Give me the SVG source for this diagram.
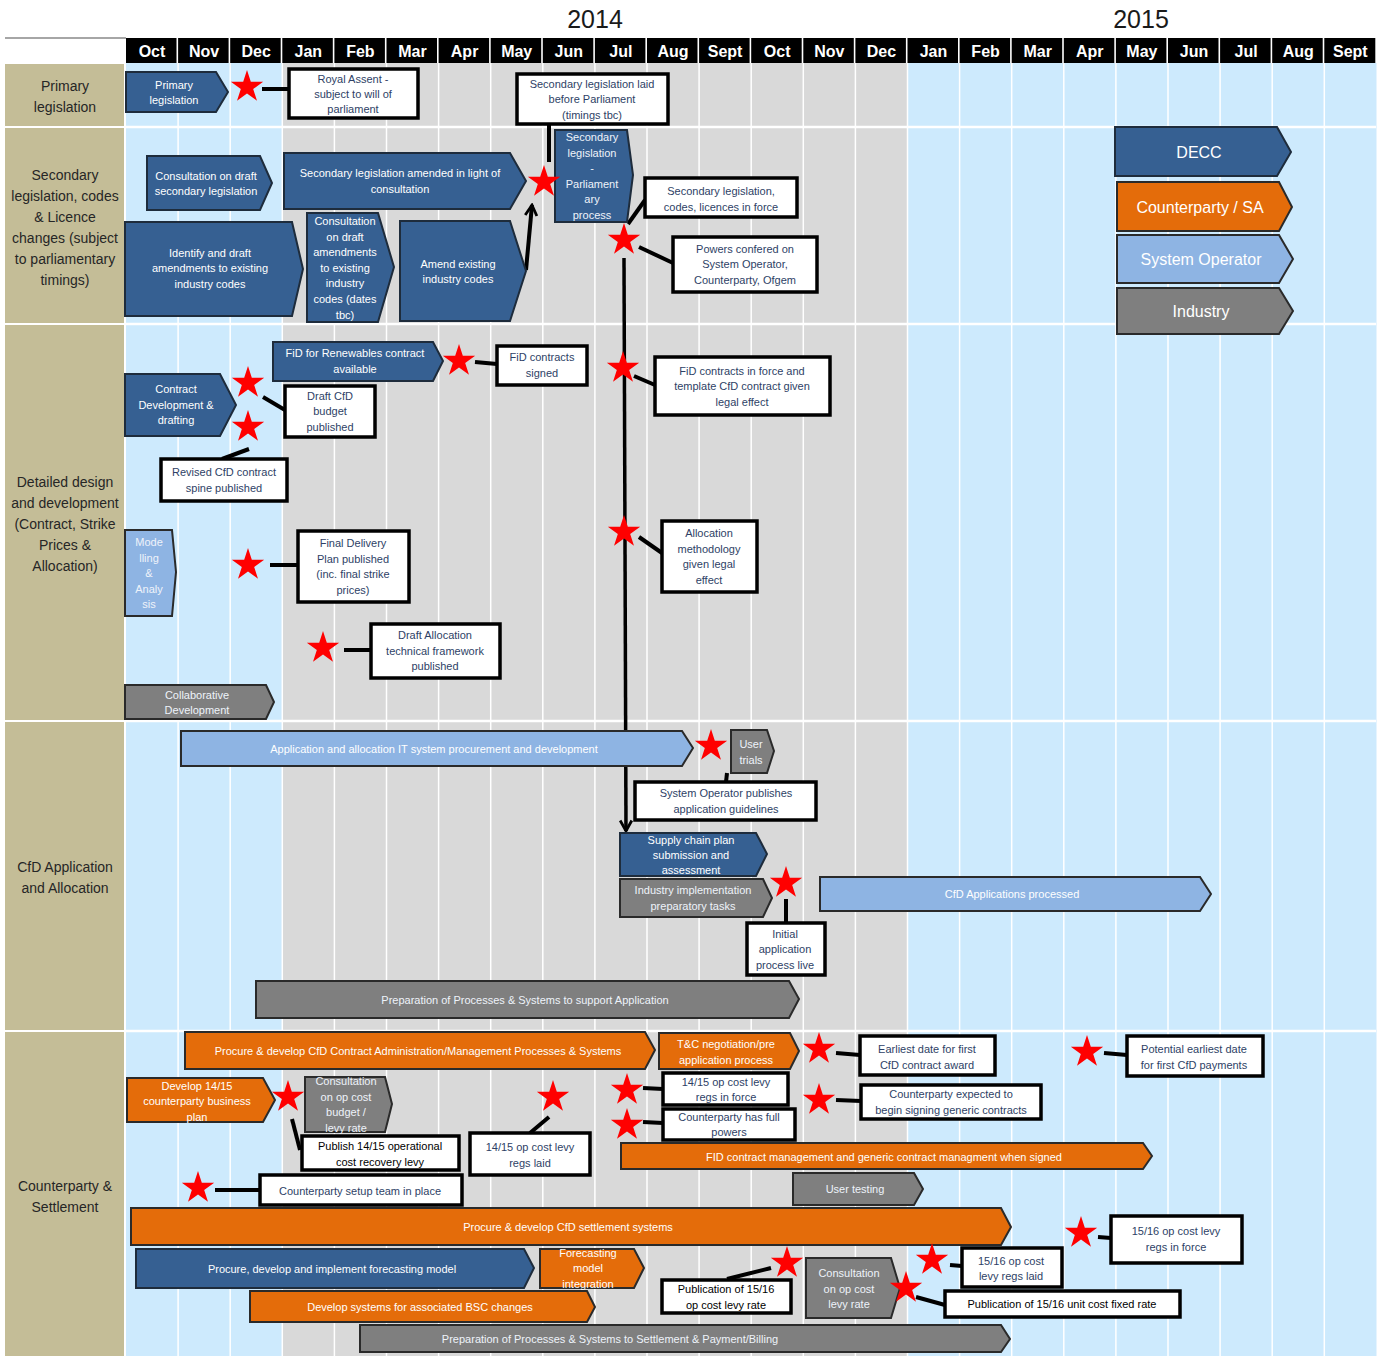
<svg xmlns="http://www.w3.org/2000/svg" xmlns:xlink="http://www.w3.org/1999/xlink" width="1381" height="1356" viewBox="0 0 1381 1356">
<style>
text{font-family:"Liberation Sans",Arial,sans-serif;text-anchor:middle}
.decc{fill:#366092;stroke:#1e2c3c;stroke-width:2}
.cp{fill:#e46c0a;stroke:#2a2a2a;stroke-width:2}
.so{fill:#8eb4e3;stroke:#2a2a2a;stroke-width:2}
.ind{fill:#7f7f7f;stroke:#2a2a2a;stroke-width:2}
.box{fill:#fff;stroke:#000;stroke-width:3.5}
.tw{font-size:11px;fill:#fff}
.tl{font-size:11px;fill:#eef3fa}
.tb{font-size:11px;fill:#2e3f66}
.tk{font-size:11px;fill:#000}
.mon{font-size:16px;font-weight:bold;fill:#fff}
.lab{font-size:14px;fill:#262626}
.yr{font-size:25px;fill:#1a1a1a}
.leg{font-size:16px;fill:#fff}
.conn line{stroke:#000;stroke-width:4;stroke-linecap:butt}
.vl{stroke:#fff;stroke-width:1.5}
.hl{stroke:#fff;stroke-width:2.5}
</style>
<defs>
<polygon id="star" fill="#ff0000" points="0,-17 3.82,-5.26 16.17,-5.25 6.18,2.01 9.99,13.75 0,6.5 -9.99,13.75 -6.18,2.01 -16.17,-5.25 -3.82,-5.26"/>
<marker id="arr" viewBox="0 0 12 12" refX="10" refY="6" markerWidth="14" markerHeight="14" markerUnits="userSpaceOnUse" orient="auto"><path d="M1,1 L10,6 L1,11" fill="none" stroke="#000" stroke-width="2.4"/></marker>
</defs>
<rect x="0" y="0" width="1381" height="1356" fill="#fff"/>
<g id="background">
<rect x="126" y="63" width="156.3" height="1293" fill="#cdeafd"/>
<rect x="282.3" y="63" width="625.2" height="1293" fill="#d9d9d9"/>
<rect x="907.5" y="63" width="469" height="1293" fill="#cdeafd"/>
<line class="vl" x1="178.1" y1="63" x2="178.1" y2="1356"/>
<line class="vl" x1="230.2" y1="63" x2="230.2" y2="1356"/>
<line class="vl" x1="282.3" y1="63" x2="282.3" y2="1356"/>
<line class="vl" x1="334.4" y1="63" x2="334.4" y2="1356"/>
<line class="vl" x1="386.5" y1="63" x2="386.5" y2="1356"/>
<line class="vl" x1="438.6" y1="63" x2="438.6" y2="1356"/>
<line class="vl" x1="490.7" y1="63" x2="490.7" y2="1356"/>
<line class="vl" x1="542.8" y1="63" x2="542.8" y2="1356"/>
<line class="vl" x1="594.9" y1="63" x2="594.9" y2="1356"/>
<line class="vl" x1="647" y1="63" x2="647" y2="1356"/>
<line class="vl" x1="699.1" y1="63" x2="699.1" y2="1356"/>
<line class="vl" x1="751.2" y1="63" x2="751.2" y2="1356"/>
<line class="vl" x1="803.3" y1="63" x2="803.3" y2="1356"/>
<line class="vl" x1="855.4" y1="63" x2="855.4" y2="1356"/>
<line class="vl" x1="907.5" y1="63" x2="907.5" y2="1356"/>
<line class="vl" x1="959.6" y1="63" x2="959.6" y2="1356"/>
<line class="vl" x1="1011.7" y1="63" x2="1011.7" y2="1356"/>
<line class="vl" x1="1063.8" y1="63" x2="1063.8" y2="1356"/>
<line class="vl" x1="1115.9" y1="63" x2="1115.9" y2="1356"/>
<line class="vl" x1="1168" y1="63" x2="1168" y2="1356"/>
<line class="vl" x1="1220.1" y1="63" x2="1220.1" y2="1356"/>
<line class="vl" x1="1272.2" y1="63" x2="1272.2" y2="1356"/>
<line class="vl" x1="1324.3" y1="63" x2="1324.3" y2="1356"/>
<rect x="5" y="64" width="119" height="62" fill="#c4bd97"/>
<rect x="5" y="128" width="119" height="195" fill="#c4bd97"/>
<rect x="5" y="325" width="119" height="395" fill="#c4bd97"/>
<rect x="5" y="722" width="119" height="308" fill="#c4bd97"/>
<rect x="5" y="1032" width="119" height="324" fill="#c4bd97"/>
<line class="hl" x1="126" y1="127" x2="1376" y2="127"/>
<line class="hl" x1="126" y1="324" x2="1376" y2="324"/>
<line class="hl" x1="126" y1="721" x2="1376" y2="721"/>
<line class="hl" x1="126" y1="1031" x2="1376" y2="1031"/>
<line x1="5" y1="38" x2="126" y2="38" stroke="#a6a6a6" stroke-width="2"/>
</g>
<g id="header">
<text class="yr" x="595" y="28">2014</text>
<text class="yr" x="1141" y="28">2015</text>
<g fill="#000">
<rect x="126" y="38" width="50.5" height="25"/><rect x="178.1" y="38" width="50.5" height="25"/><rect x="230.2" y="38" width="50.5" height="25"/><rect x="282.3" y="38" width="50.5" height="25"/><rect x="334.4" y="38" width="50.5" height="25"/><rect x="386.5" y="38" width="50.5" height="25"/><rect x="438.6" y="38" width="50.5" height="25"/><rect x="490.7" y="38" width="50.5" height="25"/><rect x="542.8" y="38" width="50.5" height="25"/><rect x="594.9" y="38" width="50.5" height="25"/><rect x="647" y="38" width="50.5" height="25"/><rect x="699.1" y="38" width="50.5" height="25"/><rect x="751.2" y="38" width="50.5" height="25"/><rect x="803.3" y="38" width="50.5" height="25"/><rect x="855.4" y="38" width="50.5" height="25"/><rect x="907.5" y="38" width="50.5" height="25"/><rect x="959.6" y="38" width="50.5" height="25"/><rect x="1011.7" y="38" width="50.5" height="25"/><rect x="1063.8" y="38" width="50.5" height="25"/><rect x="1115.9" y="38" width="50.5" height="25"/><rect x="1168" y="38" width="50.5" height="25"/><rect x="1220.1" y="38" width="50.5" height="25"/><rect x="1272.2" y="38" width="50.5" height="25"/><rect x="1324.3" y="38" width="51" height="25"/>
</g>
<text class="mon" x="152" y="57">Oct</text><text class="mon" x="204.1" y="57">Nov</text><text class="mon" x="256.2" y="57">Dec</text><text class="mon" x="308.3" y="57">Jan</text><text class="mon" x="360.4" y="57">Feb</text><text class="mon" x="412.5" y="57">Mar</text><text class="mon" x="464.6" y="57">Apr</text><text class="mon" x="516.7" y="57">May</text><text class="mon" x="568.8" y="57">Jun</text><text class="mon" x="620.9" y="57">Jul</text><text class="mon" x="673" y="57">Aug</text><text class="mon" x="725.1" y="57">Sept</text><text class="mon" x="777.2" y="57">Oct</text><text class="mon" x="829.3" y="57">Nov</text><text class="mon" x="881.4" y="57">Dec</text><text class="mon" x="933.5" y="57">Jan</text><text class="mon" x="985.6" y="57">Feb</text><text class="mon" x="1037.7" y="57">Mar</text><text class="mon" x="1089.8" y="57">Apr</text><text class="mon" x="1141.9" y="57">May</text><text class="mon" x="1194" y="57">Jun</text><text class="mon" x="1246.1" y="57">Jul</text><text class="mon" x="1298.2" y="57">Aug</text><text class="mon" x="1350.3" y="57">Sept</text>
</g>
<g id="row-labels">
<text class="lab"><tspan x="65" y="91">Primary</tspan><tspan x="65" y="112">legislation</tspan></text>
<text class="lab"><tspan x="65" y="180">Secondary</tspan><tspan x="65" y="201">legislation, codes</tspan><tspan x="65" y="222">&amp; Licence</tspan><tspan x="65" y="243">changes (subject</tspan><tspan x="65" y="264">to parliamentary</tspan><tspan x="65" y="285">timings)</tspan></text>
<text class="lab"><tspan x="65" y="487">Detailed design</tspan><tspan x="65" y="508">and development</tspan><tspan x="65" y="529">(Contract, Strike</tspan><tspan x="65" y="550">Prices &amp;</tspan><tspan x="65" y="571">Allocation)</tspan></text>
<text class="lab"><tspan x="65" y="872">CfD Application</tspan><tspan x="65" y="893">and Allocation</tspan></text>
<text class="lab"><tspan x="65" y="1191">Counterparty  &amp;</tspan><tspan x="65" y="1212">Settlement</tspan></text>
</g>
<g id="legend">
<g id="leg-decc"><polygon class="decc" points="1115,127 1277,127 1291,152 1277,176 1115,176"/><text class="leg" x="1199" y="158">DECC</text></g>
<g id="leg-cp"><polygon class="cp" points="1117,182 1279,182 1292,207 1279,231 1117,231"/><text class="leg" x="1200" y="213">Counterparty / SA</text></g>
<g id="leg-so"><polygon class="so" points="1117,235 1279,235 1293,259 1279,283 1117,283"/><text class="leg" x="1201" y="265">System Operator</text></g>
<g id="leg-ind"><polygon class="ind" points="1117,288 1279,288 1293,311 1279,334 1117,334"/><text class="leg" x="1201" y="317">Industry</text></g>
</g>
<g id="connectors" class="conn">
<line x1="262" y1="89" x2="289" y2="89"/>
<line x1="549" y1="124" x2="549" y2="162"/>
<line x1="526" y1="270" x2="532" y2="205" marker-end="url(#arr)"/>
<line x1="628" y1="224" x2="645" y2="200"/>
<line x1="639" y1="247" x2="673" y2="263"/>
<line x1="624" y1="258" x2="626" y2="831" style="stroke-width:3.5" marker-end="url(#arr)"/>
<line x1="475" y1="362" x2="497" y2="364"/>
<line x1="263" y1="397" x2="285" y2="410"/>
<line x1="249" y1="449" x2="222" y2="459"/>
<line x1="270" y1="565" x2="298" y2="565"/>
<line x1="344" y1="650" x2="371" y2="650"/>
<line x1="634" y1="376" x2="655" y2="385"/>
<line x1="639" y1="537" x2="662" y2="553"/>
<line x1="727" y1="773" x2="726" y2="782"/>
<line x1="786" y1="899" x2="786" y2="923"/>
<line x1="836" y1="1053" x2="860" y2="1055"/>
<line x1="1104" y1="1053" x2="1127" y2="1055"/>
<line x1="292" y1="1119" x2="300" y2="1150"/>
<line x1="549" y1="1117" x2="530" y2="1133"/>
<line x1="215" y1="1190" x2="260" y2="1190"/>
<line x1="643" y1="1088" x2="663" y2="1089"/>
<line x1="643" y1="1122" x2="663" y2="1123"/>
<line x1="836" y1="1100" x2="861" y2="1101"/>
<line x1="771" y1="1268" x2="727" y2="1279"/>
<line x1="916" y1="1297" x2="945" y2="1305"/>
<line x1="950" y1="1265" x2="962" y2="1266"/>
<line x1="1098" y1="1237" x2="1111" y2="1238"/>
</g>
<g id="n-primary"><polygon class="decc" points="126,72 216,72 228,92 216,112 126,112"/><text class="tw"><tspan x="174" y="89">Primary</tspan><tspan x="174" y="104">legislation</tspan></text></g>
<g id="n-royal"><rect class="box" x="289" y="69" width="129" height="49"/><text class="tb"><tspan x="353" y="83">Royal Assent -</tspan><tspan x="353" y="98">subject to will of</tspan><tspan x="353" y="113">parliament</tspan></text></g>
<g id="n-laid"><rect class="box" x="517" y="74" width="151" height="50"/><text class="tb"><tspan x="592" y="88">Secondary legislation laid</tspan><tspan x="592" y="103">before Parliament</tspan><tspan x="592" y="119">(timings tbc)</tspan></text></g>
<g id="n-consult-sec"><polygon class="decc" points="147,156 260,156 272,183 260,210 147,210"/><text class="tw"><tspan x="206" y="180">Consultation on draft</tspan><tspan x="206" y="195">secondary legislation</tspan></text></g>
<g id="n-sec-amended"><polygon class="decc" points="284,153 510,153 526,181 510,209 284,209"/><text class="tw"><tspan x="400" y="177">Secondary legislation amended in light of</tspan><tspan x="400" y="193">consultation</tspan></text></g>
<g id="n-identify"><polygon class="decc" points="125,222 292,222 303,269 292,316 125,316"/><text class="tw"><tspan x="210" y="257">Identify and draft</tspan><tspan x="210" y="272">amendments to existing</tspan><tspan x="210" y="288">industry codes</tspan></text></g>
<g id="n-consult-codes"><polygon class="decc" points="307,213 378,213 394,267 378,322 307,322"/><text class="tw"><tspan x="345" y="225">Consultation</tspan><tspan x="345" y="241">on draft</tspan><tspan x="345" y="256">amendments</tspan><tspan x="345" y="272">to existing</tspan><tspan x="345" y="287">industry</tspan><tspan x="345" y="303">codes (dates</tspan><tspan x="345" y="319">tbc)</tspan></text></g>
<g id="n-amend"><polygon class="decc" points="400,221 510,221 526,271 510,321 400,321"/><text class="tw"><tspan x="458" y="268">Amend existing</tspan><tspan x="458" y="283">industry codes</tspan></text></g>
<g id="n-parl"><polygon class="decc" points="555,130 627,130 633,175 627,222 555,222"/><text class="tl"><tspan x="592" y="141">Secondary</tspan><tspan x="592" y="157">legislation</tspan><tspan x="592" y="172">-</tspan><tspan x="592" y="188">Parliament</tspan><tspan x="592" y="203">ary</tspan><tspan x="592" y="219">process</tspan></text></g>
<g id="n-inforce"><rect class="box" x="645" y="178" width="152" height="39"/><text class="tb"><tspan x="721" y="195">Secondary legislation,</tspan><tspan x="721" y="211">codes, licences in force</tspan></text></g>
<g id="n-powers"><rect class="box" x="673" y="237" width="144" height="55"/><text class="tb"><tspan x="745" y="253">Powers confered on</tspan><tspan x="745" y="268">System Operator,</tspan><tspan x="745" y="284">Counterparty,  Ofgem</tspan></text></g>
<g id="n-fid-avail"><polygon class="decc" points="273,342 433,342 443,361 433,381 273,381"/><text class="tw"><tspan x="355" y="357">FiD for Renewables  contract</tspan><tspan x="355" y="373">available</tspan></text></g>
<g id="n-fid-signed"><rect class="box" x="497" y="346" width="90" height="39"/><text class="tb"><tspan x="542" y="361">FiD contracts</tspan><tspan x="542" y="377">signed</tspan></text></g>
<g id="n-contract-dev"><polygon class="decc" points="125,374 220,374 236,405 220,436 125,436"/><text class="tw"><tspan x="176" y="393">Contract</tspan><tspan x="176" y="409">Development  &amp;</tspan><tspan x="176" y="424">drafting</tspan></text></g>
<g id="n-draft-budget"><rect class="box" x="285" y="386" width="90" height="51"/><text class="tb"><tspan x="330" y="400">Draft CfD</tspan><tspan x="330" y="415">budget</tspan><tspan x="330" y="431">published</tspan></text></g>
<g id="n-revised"><rect class="box" x="161" y="459" width="126" height="42"/><text class="tb"><tspan x="224" y="476">Revised CfD contract</tspan><tspan x="224" y="492">spine published</tspan></text></g>
<g id="n-modelling"><polygon class="so" points="125,530 172,530 176,572 172,616 125,616"/><text class="tl"><tspan x="149" y="546">Mode</tspan><tspan x="149" y="562">lling</tspan><tspan x="149" y="577">&amp;</tspan><tspan x="149" y="593">Analy</tspan><tspan x="149" y="608">sis</tspan></text></g>
<g id="n-final-plan"><rect class="box" x="298" y="531" width="111" height="71"/><text class="tb"><tspan x="353" y="547">Final Delivery</tspan><tspan x="353" y="563">Plan published</tspan><tspan x="353" y="578">(inc. final strike</tspan><tspan x="353" y="594">prices)</tspan></text></g>
<g id="n-draft-alloc"><rect class="box" x="371" y="624" width="129" height="54"/><text class="tb"><tspan x="435" y="639">Draft Allocation</tspan><tspan x="435" y="655">technical framework</tspan><tspan x="435" y="670">published</tspan></text></g>
<g id="n-collab"><polygon class="ind" points="125,685 266,685 274,702 266,719 125,719"/><text class="tl"><tspan x="197" y="699">Collaborative</tspan><tspan x="197" y="714">Development</tspan></text></g>
<g id="n-fid-force"><rect class="box" x="655" y="357" width="175" height="58"/><text class="tb"><tspan x="742" y="375">FiD contracts in force and</tspan><tspan x="742" y="390">template CfD contract given</tspan><tspan x="742" y="406">legal effect</tspan></text></g>
<g id="n-alloc-method"><rect class="box" x="662" y="521" width="95" height="71"/><text class="tb"><tspan x="709" y="537">Allocation</tspan><tspan x="709" y="553">methodology</tspan><tspan x="709" y="568">given  legal</tspan><tspan x="709" y="584">effect</tspan></text></g>
<g id="n-it-system"><polygon class="so" points="181,731 682,731 693,748 682,766 181,766"/><text class="tw" x="434" y="753">Application and allocation IT system procurement and development</text></g>
<g id="n-user-trials"><polygon class="ind" points="731,730 767,730 774,751 767,773 731,773"/><text class="tl"><tspan x="751" y="748">User</tspan><tspan x="751" y="764">trials</tspan></text></g>
<g id="n-so-guidelines"><rect class="box" x="635" y="782" width="181" height="38"/><text class="tb"><tspan x="726" y="797">System Operator publishes</tspan><tspan x="726" y="813">application guidelines</tspan></text></g>
<g id="n-supply-chain"><polygon class="decc" points="620,833 756,833 767,854 756,876 620,876"/><text class="tw"><tspan x="691" y="844">Supply chain plan</tspan><tspan x="691" y="859">submission and</tspan><tspan x="691" y="874">assessment</tspan></text></g>
<g id="n-industry-impl"><polygon class="ind" points="620,879 763,879 772,898 763,917 620,917"/><text class="tl"><tspan x="693" y="894">Industry implementation</tspan><tspan x="693" y="910">preparatory tasks</tspan></text></g>
<g id="n-initial-app"><rect class="box" x="747" y="923" width="78" height="52"/><text class="tb"><tspan x="785" y="938">Initial</tspan><tspan x="785" y="953">application</tspan><tspan x="785" y="969">process live</tspan></text></g>
<g id="n-cfd-processed"><polygon class="so" points="820,877 1200,877 1211,894 1200,911 820,911"/><text class="tw" x="1012" y="898">CfD Applications processed</text></g>
<g id="n-prep-app"><polygon class="ind" points="256,981 789,981 799,999 789,1018 256,1018"/><text class="tl" x="525" y="1004">Preparation of Processes  &amp; Systems to support Application</text></g>
<g id="n-procure-admin"><polygon class="cp" points="185,1032 645,1032 655,1050 645,1069 185,1069"/><text class="tw" x="418" y="1055">Procure &amp; develop CfD Contract Administration/Management  Processes &amp; Systems</text></g>
<g id="n-tc"><polygon class="cp" points="659,1033 790,1033 799,1051 790,1069 659,1069"/><text class="tw"><tspan x="726" y="1048">T&amp;C negotiation/pre</tspan><tspan x="726" y="1064">application process</tspan></text></g>
<g id="n-earliest"><rect class="box" x="860" y="1036" width="135" height="39"/><text class="tb"><tspan x="927" y="1053">Earliest date for first</tspan><tspan x="927" y="1069">CfD contract award</tspan></text></g>
<g id="n-potential"><rect class="box" x="1127" y="1036" width="136" height="40"/><text class="tb"><tspan x="1194" y="1053">Potential earliest  date</tspan><tspan x="1194" y="1069">for first CfD payments</tspan></text></g>
<g id="n-dev-plan"><polygon class="cp" points="127,1078 263,1078 275,1100 263,1122 127,1122"/><text class="tw"><tspan x="197" y="1090">Develop 14/15</tspan><tspan x="197" y="1105">counterparty business</tspan><tspan x="197" y="1121">plan</tspan></text></g>
<g id="n-consult-budget"><polygon class="ind" points="305,1077 385,1077 392,1104 385,1132 305,1132"/><text class="tl"><tspan x="346" y="1085">Consultation</tspan><tspan x="346" y="1101">on op cost</tspan><tspan x="346" y="1116">budget /</tspan><tspan x="346" y="1132">levy rate</tspan></text></g>
<g id="n-publish-1415"><rect class="box" x="302" y="1136" width="157" height="34"/><text class="tk"><tspan x="380" y="1150">Publish 14/15 operational</tspan><tspan x="380" y="1166">cost recovery levy</tspan></text></g>
<g id="n-1415-laid"><rect class="box" x="470" y="1133" width="120" height="42"/><text class="tb"><tspan x="530" y="1151">14/15 op cost levy</tspan><tspan x="530" y="1167">regs laid</tspan></text></g>
<g id="n-setup-team"><rect class="box" x="260" y="1175" width="202" height="30"/><text class="tb" x="360" y="1195">Counterparty setup team in place</text></g>
<g id="n-1415-force"><rect class="box" x="663" y="1073" width="125" height="32"/><text class="tb"><tspan x="726" y="1086">14/15 op cost levy</tspan><tspan x="726" y="1101">regs in force</tspan></text></g>
<g id="n-full-powers"><rect class="box" x="663" y="1109" width="132" height="31"/><text class="tb"><tspan x="729" y="1121">Counterparty has full</tspan><tspan x="729" y="1136">powers</tspan></text></g>
<g id="n-signing"><rect class="box" x="861" y="1085" width="180" height="34"/><text class="tb"><tspan x="951" y="1098">Counterparty expected to</tspan><tspan x="951" y="1114">begin signing generic contracts</tspan></text></g>
<g id="n-fid-mgmt"><polygon class="cp" points="621,1143 1143,1143 1152,1156 1143,1169 621,1169"/><text class="tw" x="884" y="1161">FID contract management and generic contract managment when signed</text></g>
<g id="n-user-testing"><polygon class="ind" points="793,1173 914,1173 923,1189 914,1205 793,1205"/><text class="tl" x="855" y="1193">User testing</text></g>
<g id="n-settlement"><polygon class="cp" points="131,1208 1001,1208 1011,1227 1001,1245 131,1245"/><text class="tw" x="568" y="1231">Procure &amp; develop  CfD settlement systems</text></g>
<g id="n-forecast"><polygon class="decc" points="136,1249 524,1249 534,1268 524,1288 136,1288"/><text class="tw" x="332" y="1273">Procure, develop and implement forecasting model</text></g>
<g id="n-forecast-int"><polygon class="cp" points="540,1249 634,1249 644,1268 634,1288 540,1288"/><text class="tw"><tspan x="588" y="1257">Forecasting</tspan><tspan x="588" y="1272">model</tspan><tspan x="588" y="1288">integration</tspan></text></g>
<g id="n-bsc"><polygon class="cp" points="250,1291 587,1291 595,1307 587,1322 250,1322"/><text class="tw" x="420" y="1311">Develop systems for associated BSC changes</text></g>
<g id="n-prep-settle"><polygon class="ind" points="360,1325 1001,1325 1010,1339 1001,1352 360,1352"/><text class="tl" x="610" y="1343">Preparation of Processes &amp; Systems to Settlement &amp; Payment/Billing</text></g>
<g id="n-pub-1516"><rect class="box" x="662" y="1280" width="129" height="33"/><text class="tk"><tspan x="726" y="1293">Publication of 15/16</tspan><tspan x="726" y="1309">op cost levy rate</tspan></text></g>
<g id="n-consult-levy"><polygon class="ind" points="806,1258 891,1258 900,1288 891,1318 806,1318"/><text class="tl"><tspan x="849" y="1277">Consultation</tspan><tspan x="849" y="1293">on op cost</tspan><tspan x="849" y="1308">levy rate</tspan></text></g>
<g id="n-unit-cost"><rect class="box" x="945" y="1291" width="235" height="26"/><text class="tk" x="1062" y="1308">Publication of 15/16 unit cost fixed rate</text></g>
<g id="n-1516-laid"><rect class="box" x="962" y="1248" width="100" height="39"/><text class="tb"><tspan x="1011" y="1265">15/16 op cost</tspan><tspan x="1011" y="1280">levy regs laid</tspan></text></g>
<g id="n-1516-force"><rect class="box" x="1111" y="1216" width="131" height="47"/><text class="tb"><tspan x="1176" y="1235">15/16 op cost levy</tspan><tspan x="1176" y="1251">regs in force</tspan></text></g>
<g id="milestones">
<use xlink:href="#star" x="247" y="87"/>
<use xlink:href="#star" x="544" y="182"/>
<use xlink:href="#star" x="624" y="240"/>
<use xlink:href="#star" x="459" y="361"/>
<use xlink:href="#star" x="248" y="383"/>
<use xlink:href="#star" x="248" y="427"/>
<use xlink:href="#star" x="248" y="565"/>
<use xlink:href="#star" x="323" y="648"/>
<use xlink:href="#star" x="623" y="368"/>
<use xlink:href="#star" x="624" y="532"/>
<use xlink:href="#star" x="711" y="746"/>
<use xlink:href="#star" x="786" y="883"/>
<use xlink:href="#star" x="819" y="1049"/>
<use xlink:href="#star" x="1087" y="1052"/>
<use xlink:href="#star" x="288" y="1097"/>
<use xlink:href="#star" x="553" y="1097"/>
<use xlink:href="#star" x="198" y="1188"/>
<use xlink:href="#star" x="627" y="1090"/>
<use xlink:href="#star" x="627" y="1125"/>
<use xlink:href="#star" x="819" y="1100"/>
<use xlink:href="#star" x="787" y="1263"/>
<use xlink:href="#star" x="906" y="1288"/>
<use xlink:href="#star" x="932" y="1260"/>
<use xlink:href="#star" x="1081" y="1233"/>
</g>
</svg>
